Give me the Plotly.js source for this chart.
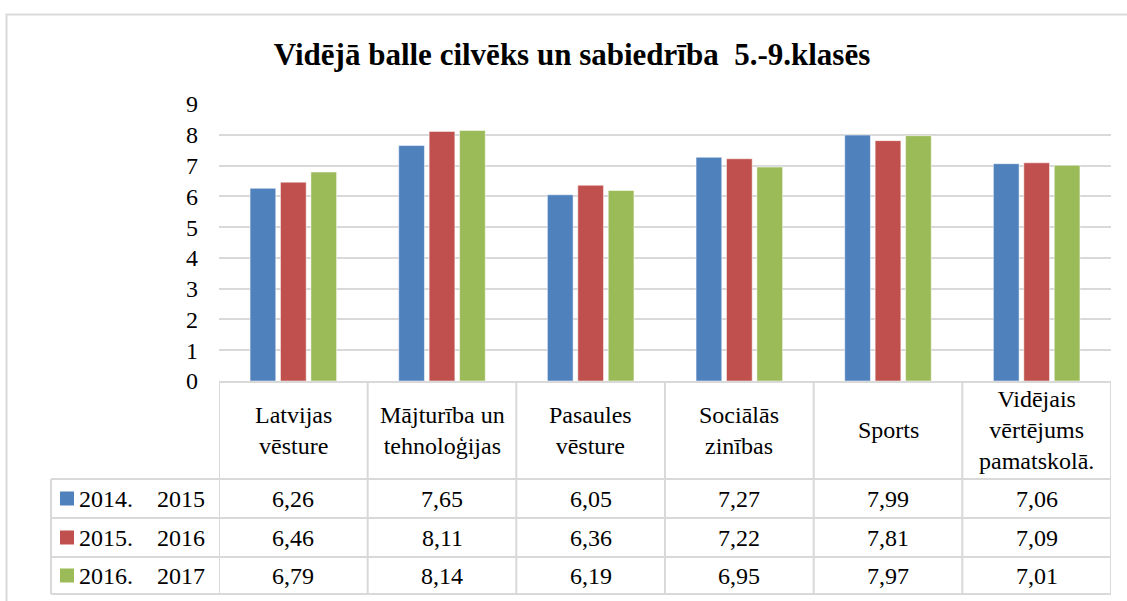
<!DOCTYPE html>
<html>
<head>
<meta charset="utf-8">
<script src="https://cdn.plot.ly/plotly-3.0.1.min.js"></script>
<style>html,body{margin:0;padding:0;background:#fff;}#chart{width:1127px;height:601px;}</style>
</head>
<body>
<div id="chart"></div>
<script>
// ---- data ----
const categories = [
  "Latvijas<br>vēsture",
  "Mājturība un<br>tehnoloģijas",
  "Pasaules<br>vēsture",
  "Sociālās<br>zinības",
  "Sports",
  "Vidējais<br>vērtējums<br>pamatskolā."
];
const seriesNames = ["2014.\u00A0\u00A0\u00A0\u00A02015", "2015.\u00A0\u00A0\u00A0\u00A02016", "2016.\u00A0\u00A0\u00A0\u00A02017"];
const s2014_2015 = [6.26, 7.65, 6.05, 7.27, 7.99, 7.06];
const s2015_2016 = [6.46, 8.11, 6.36, 7.22, 7.81, 7.09];
const s2016_2017 = [6.79, 8.14, 6.19, 6.95, 7.97, 7.01];
const yTicks = [0,1,2,3,4,5,6,7,8,9];
const titleText = "Vidējā balle cilvēks un sabiedrība\u00A0\u00A05.-9.klasēs";

// ---- style ----
const colors = ["#4F81BD", "#C0504D", "#9BBB59"];
const seriesValues = [s2014_2015, s2015_2016, s2016_2017];
const FONT = "'Liberation Serif', 'Times New Roman', Times, 'DejaVu Serif', serif";
const GRID = "#d9d9d9";

// layout geometry (pixels)
const W = 1127, H = 601;
const L = 219, R = 16, T = 104, B = 220;
const plotW = W - L - R, plotH = H - T - B;
const px2x = p => (p - L) / plotW;
const py2y = p => (H - B - p) / plotH;

const idx = categories.map((_, i) => i);

const traces = seriesValues.map((vals, k) => ({
  type: "bar",
  x: idx,
  y: vals,
  name: seriesNames[k],
  marker: {color: colors[k], line: {color: "rgba(255,255,255,0.5)", width: 1}},
  hoverinfo: "y"
}));

// table geometry
const headerTop = 381, headerBot = 479;
const rowBounds = [479, 518, 557, 594];
const legendLeft = 51;

const shapes = [];
const annotations = [];

// outer frame (top + left)
shapes.push({type:"line", xref:"paper", yref:"paper", x0:px2x(6), x1:px2x(1130), y0:py2y(14.5), y1:py2y(14.5), line:{color:GRID, width:2}});
shapes.push({type:"line", xref:"paper", yref:"paper", x0:px2x(6.5), x1:px2x(6.5), y0:py2y(14), y1:py2y(610), line:{color:GRID, width:2}});

// vertical table lines at category boundaries
for (let i = 0; i <= categories.length; i++) {
  shapes.push({type:"line", xref:"x", yref:"paper", x0:i-0.5, x1:i-0.5, y0:py2y(headerTop), y1:py2y(rowBounds[3]), line:{color:GRID, width:2}});
}
// legend column left line
shapes.push({type:"line", xref:"paper", yref:"paper", x0:px2x(legendLeft), x1:px2x(legendLeft), y0:py2y(rowBounds[0]), y1:py2y(rowBounds[3]), line:{color:GRID, width:2}});
// horizontal row lines
rowBounds.forEach(r => {
  shapes.push({type:"line", xref:"paper", yref:"paper", x0:px2x(legendLeft), x1:1, y0:py2y(r), y1:py2y(r), line:{color:GRID, width:2}});
});

// category header text
categories.forEach((c, i) => {
  annotations.push({xref:"x", yref:"paper", x:i, y:py2y((headerTop+headerBot)/2), text:c, showarrow:false,
    xanchor:"center", yanchor:"middle", align:"center", font:{family:FONT, size:24, color:"#000"}});
});

// values + legend keys
seriesValues.forEach((vals, k) => {
  const cy = (rowBounds[k] + rowBounds[k+1]) / 2;
  vals.forEach((v, i) => {
    annotations.push({xref:"x", yref:"paper", x:i, y:py2y(cy), text:v.toFixed(2).replace(".", ","), showarrow:false,
      xanchor:"center", yanchor:"middle", font:{family:FONT, size:24, color:"#000"}});
  });
  annotations.push({xref:"paper", yref:"paper", x:px2x(77), y:py2y(cy), text:seriesNames[k], showarrow:false,
    xanchor:"left", yanchor:"middle", font:{family:FONT, size:24, color:"#000"}});
  shapes.push({type:"rect", xref:"paper", yref:"paper", x0:px2x(60), x1:px2x(74), y0:py2y(cy-7), y1:py2y(cy+7),
    fillcolor:colors[k], line:{width:0}});
});

const layout = {
  width: W, height: H,
  margin: {l: L, r: R, t: T, b: B, pad: 0},
  paper_bgcolor: "#fff", plot_bgcolor: "#fff",
  font: {family: FONT, color: "#000"},
  title: {text: "<b>" + titleText + "</b>", font: {family: FONT, size: 31, color: "#000"},
    xref: "container", yref: "container", x: 572/W, y: 1 - 54/H, xanchor: "center", yanchor: "middle"},
  showlegend: false,
  barmode: "group",
  bargap: 0.386,
  bargroupgap: 0.155,
  xaxis: {range: [-0.5, categories.length - 0.5], showticklabels: false, ticks: "", showgrid: false, zeroline: false,
    showline: true, linecolor: GRID, linewidth: 2, tickvals: idx, fixedrange: true},
  yaxis: {range: [0, 9], tickvals: yTicks, ticktext: yTicks.map(String), showgrid: true, gridcolor: GRID, gridwidth: 2,
    zeroline: false, showline: false, ticks: "", ticklabelstandoff: 20,
    tickfont: {family: FONT, size: 24, color: "#000"}, fixedrange: true},
  shapes: shapes,
  annotations: annotations
};

Plotly.newPlot("chart", traces, layout, {displayModeBar: false, staticPlot: true});
</script>
</body>
</html>
